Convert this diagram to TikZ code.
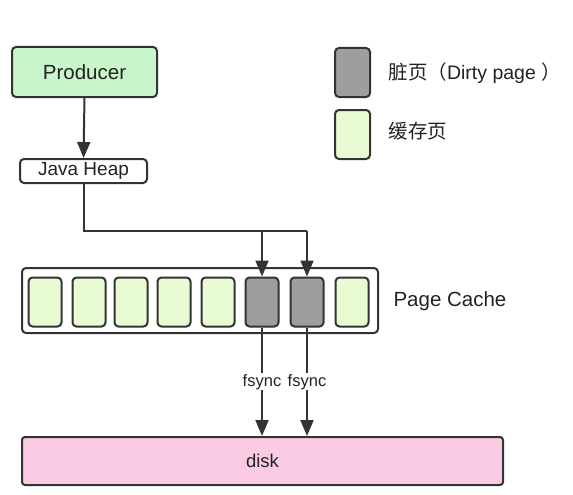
\documentclass[tikz,border=0pt]{standalone}
\usepackage{fontspec}
\setmainfont{Liberation Sans}
\newfontfamily\cjk{Noto Sans CJK SC}
\usepackage{tikz}
\usetikzlibrary{positioning,calc,arrows.meta}
\definecolor{Edge}{HTML}{333333}
\definecolor{Ink}{HTML}{222222}
\definecolor{ProducerFill}{HTML}{C9F5CB}
\definecolor{CacheFill}{HTML}{E8FBD2}
\definecolor{DirtyFill}{HTML}{9E9E9E}
\definecolor{DiskFill}{HTML}{FBCAE3}

\tikzset{
	box/.style={draw=Edge, line width=2pt, rounded corners=4pt, inner sep=0pt, text=Ink},
	cachepage/.style={box, fill=CacheFill, minimum width=33pt, minimum height=49pt},
	dirtypage/.style={box, fill=DirtyFill, minimum width=33pt, minimum height=49pt},
	flow/.style={draw=Edge, line width=2pt, -{Triangle[length=16pt,width=13pt]}},
}

\begin{document}
\begin{tikzpicture}[x=1pt,y=-1pt]
	\useasboundingbox (0,0) rectangle (573,495);
	
	% producer side
	\node[box, fill=ProducerFill, minimum width=145pt, minimum height=50pt,
	font=\fontsize{20.5}{24}\selectfont] (producer) at (84.5,72) {Producer};
	\node[box, fill=white, minimum width=127pt, minimum height=24pt,
	font=\fontsize{19}{22}\selectfont] (heap) at (83.5,171) {Java Heap};
	\draw[flow] (producer.south) -- (heap.north);
	
	% page cache
	\node[box, fill=white, minimum width=356pt, minimum height=65pt] (cache) at (200,300.5) {};
	\foreach \name/\x/\kind in {p1/45/cachepage, p2/89/cachepage, p3/131/cachepage,
		p4/174/cachepage, p5/218/cachepage, p6/262/dirtypage, p7/307/dirtypage, p8/352/cachepage}
	{
		\node[\kind] (\name) at (\x,302) {};
	}
	\node[anchor=west, text=Ink, font=\fontsize{20.5}{24}\selectfont] (cachelabel) at (390,301) {Page Cache};
	
	% writes into the dirty pages
	\coordinate (split7) at (307,231);
	\coordinate (split6) at (262,231);
	\draw[draw=Edge, line width=2pt] (heap.south) |- (split7);
	\draw[flow] (split7) -- (p7.north);
	\draw[flow] (split6) -- (p6.north);
	
	% disk
	\node[box, fill=DiskFill, rounded corners=3pt, minimum width=481pt, minimum height=48pt,
	font=\fontsize{18.5}{21}\selectfont] (disk) at (262.5,461) {disk};
	\draw[flow] (p6.south) -- node[fill=white, inner sep=1pt, text=Ink, font=\fontsize{16.5}{19}\selectfont] (fsync6) {fsync} (p6.south |- disk.north);
	\draw[flow] (p7.south) -- node[fill=white, inner sep=1pt, text=Ink, font=\fontsize{16.5}{19}\selectfont] (fsync7) {fsync} (p7.south |- disk.north);
	
	% legend
	\node[dirtypage, minimum width=35pt] (legenddirty) at (352.5,72.5) {};
	\node[cachepage, minimum width=35pt] (legendcache) at (352.5,134.5) {};
	\node[anchor=west, text=Ink, font=\fontsize{19.5}{22}\selectfont] (dirtytext) at (385,73)
	{{\cjk 脏页（}Dirty page {\cjk ）}};
	\node[anchor=west, text=Ink, font=\fontsize{19.5}{22}\selectfont] (cachetext) at (385,131) {\cjk 缓存页};
\end{tikzpicture}
\end{document}
